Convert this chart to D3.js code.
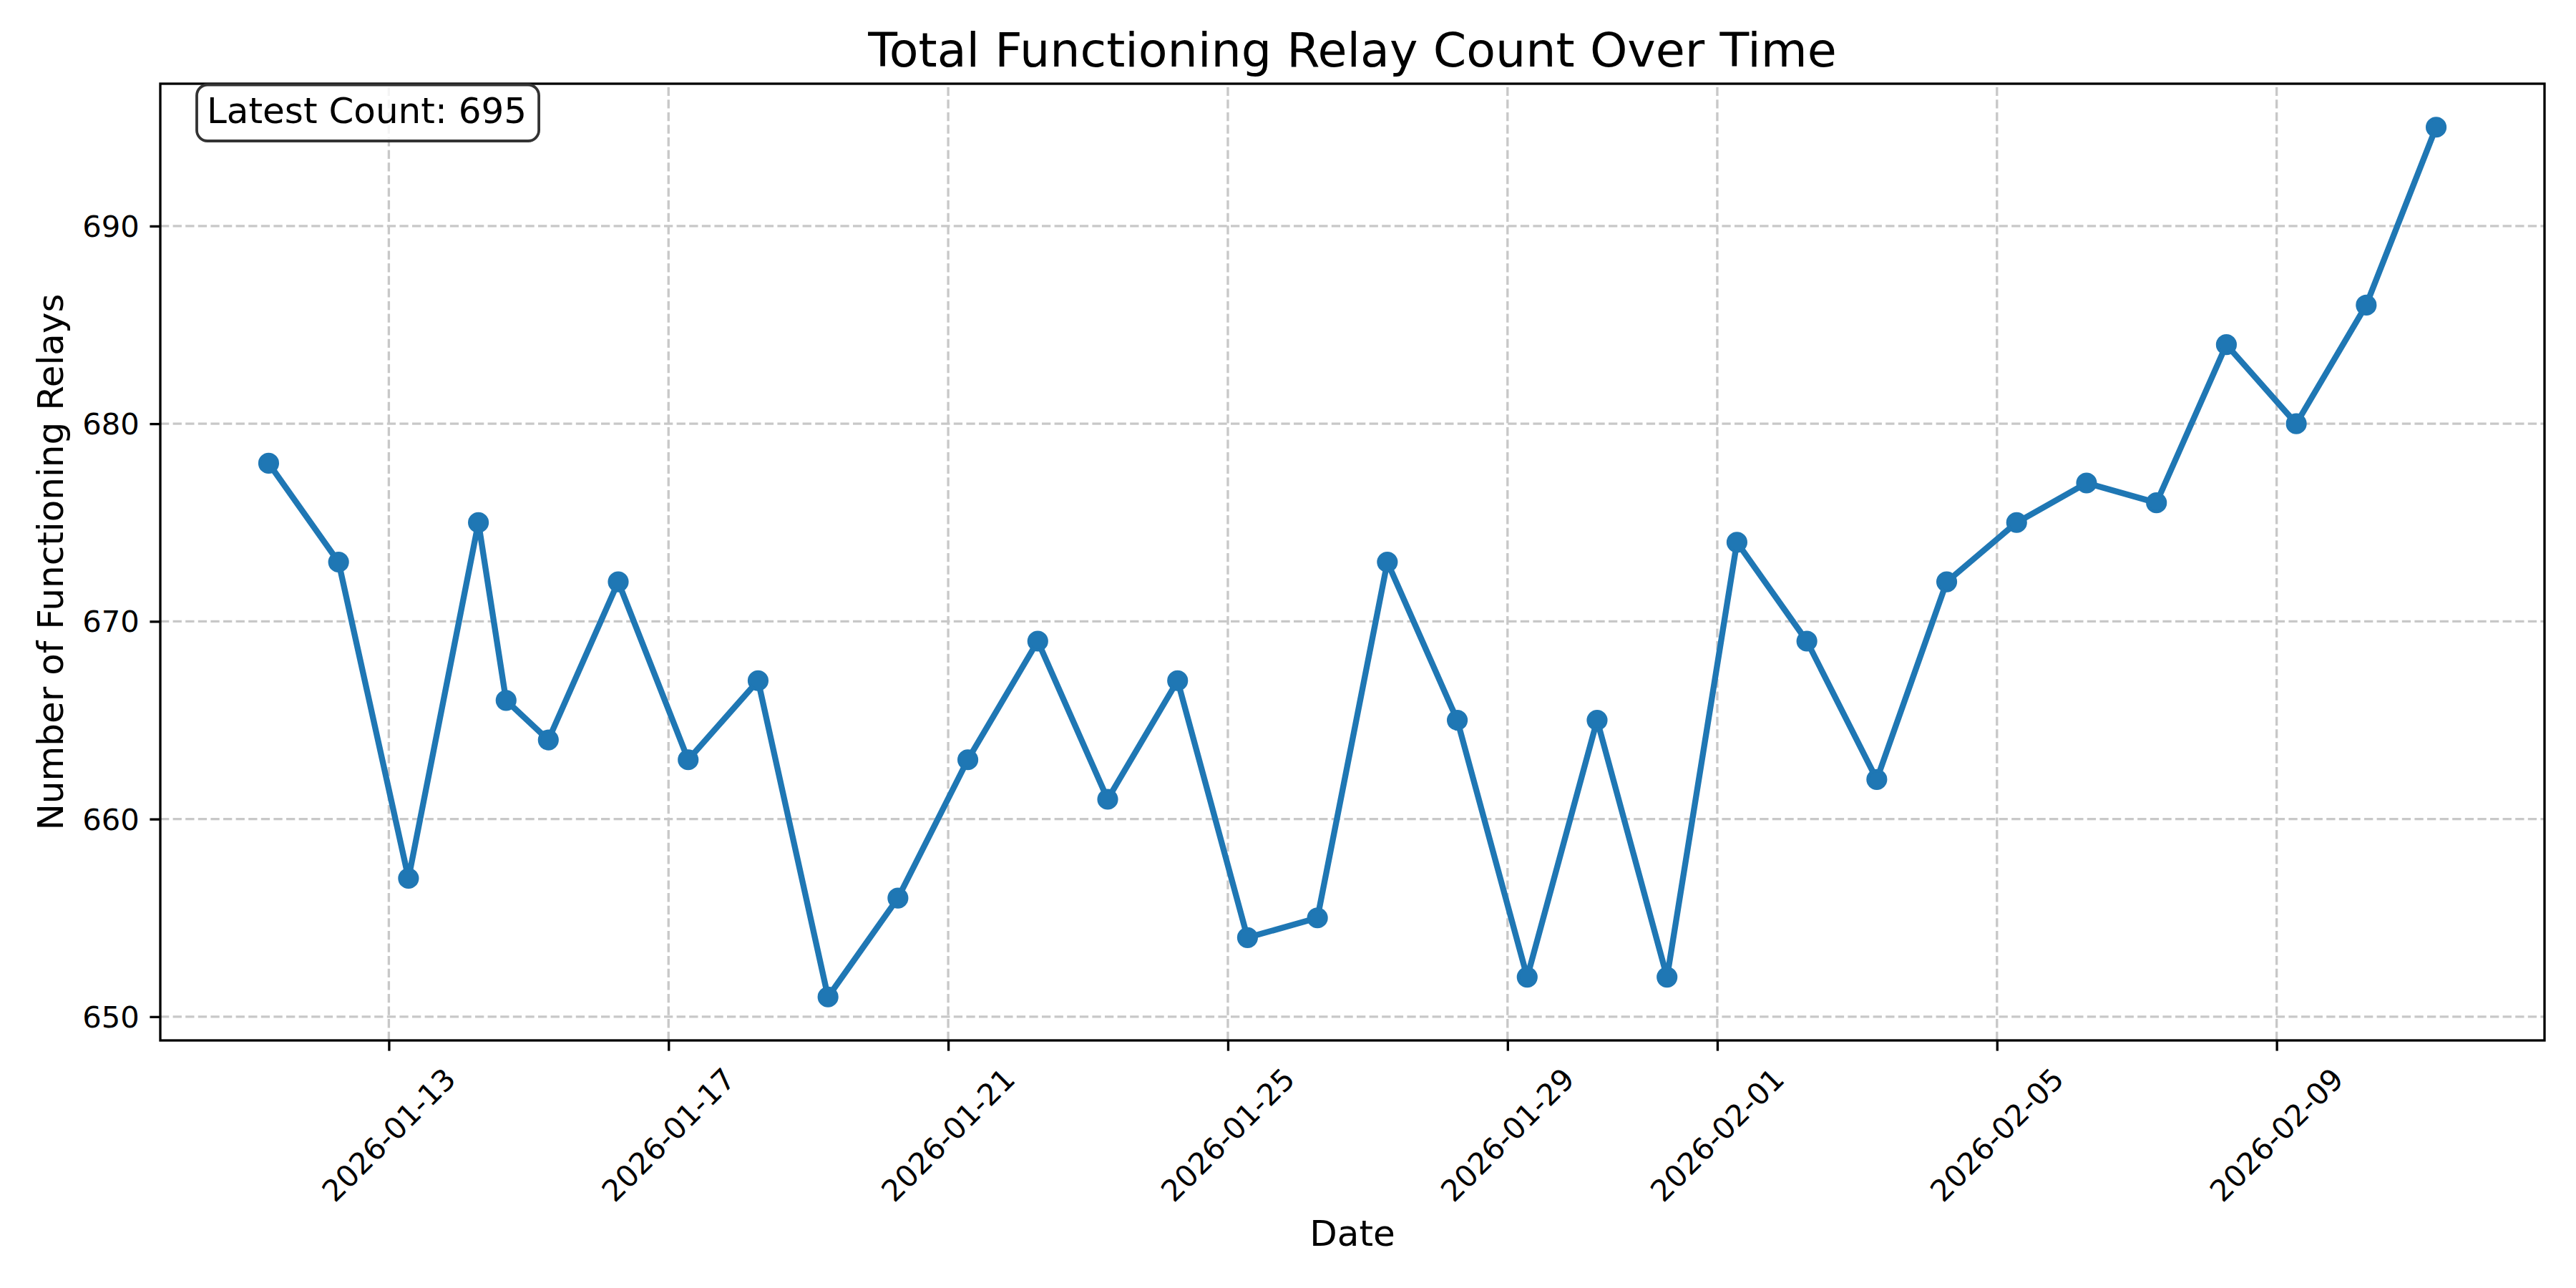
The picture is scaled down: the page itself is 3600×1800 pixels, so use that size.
<!DOCTYPE html>
<html>
<head>
<meta charset="utf-8">
<script src="https://cdn.jsdelivr.net/npm/d3@7"></script>
<style>
  body { margin: 0; background: #fff; }
  text { font-family: "DejaVu Sans", sans-serif; fill: #000; }
</style>
</head>
<body>
<div id="chart"></div>
<script>
// readings, one per day (plus a second one on Jan 14)
const dates = [
	"2026-01-11T06:45", "2026-01-12T06:45", "2026-01-13T06:45", "2026-01-14T06:45", "2026-01-14T16:15",
	"2026-01-15T06:45", "2026-01-16T06:45", "2026-01-17T06:45", "2026-01-18T06:45", "2026-01-19T06:45",
	"2026-01-20T06:45", "2026-01-21T06:45", "2026-01-22T06:45", "2026-01-23T06:45", "2026-01-24T06:45",
	"2026-01-25T06:45", "2026-01-26T06:45", "2026-01-27T06:45", "2026-01-28T06:45", "2026-01-29T06:45",
	"2026-01-30T06:45", "2026-01-31T06:45", "2026-02-01T06:45", "2026-02-02T06:45", "2026-02-03T06:45",
	"2026-02-04T06:45", "2026-02-05T06:45", "2026-02-06T06:45", "2026-02-07T06:45", "2026-02-08T06:45",
	"2026-02-09T06:45", "2026-02-10T06:45", "2026-02-11T06:45"
];
const counts = [
	678, 673, 657, 675, 666,
	664, 672, 663, 667, 651,
	656, 663, 669, 661, 667,
	654, 655, 673, 665, 652,
	665, 652, 674, 669, 662,
	672, 675, 677, 676, 684,
	680, 686, 695
];
const xTickLabels = ["2026-01-13", "2026-01-17", "2026-01-21", "2026-01-25", "2026-01-29", "2026-02-01", "2026-02-05", "2026-02-09"];
const yTickValues = [650, 660, 670, 680, 690];

const title = "Total Functioning Relay Count Over Time";
const xLabel = "Date";
const yLabel = "Number of Functioning Relays";

const w = 3600;
const h = 1800;
const margin = { top: 117, bottom: 346, left: 224, right: 44 };
const blue = "#1f77b4";
const gridColor = "#c8c8c8";

const parse = d3.utcParse("%Y-%m-%dT%H:%M");
const parseDay = d3.utcParse("%Y-%m-%d");
const data = dates.map((d, i) => ({ date: parse(d), count: counts[i] }));

const svg = d3.select("#chart")
	.append("svg")
	.attr("width", w)
	.attr("height", h)
	.attr("viewBox", [0, 0, w, h]);

// matplotlib-like 5% padding on both axes
const [t0, t1] = d3.extent(data, d => d.date);
const tPad = (t1 - t0) * 0.05;
const x = d3.scaleUtc()
	.domain([new Date(+t0 - tPad), new Date(+t1 + tPad)])
	.range([margin.left, w - margin.right]);

const [c0, c1] = d3.extent(counts);
const cPad = (c1 - c0) * 0.05;
const y = d3.scaleLinear()
	.domain([c0 - cPad, c1 + cPad])
	.range([h - margin.bottom, margin.top]);

const xTicks = xTickLabels.map(parseDay);
const x0 = margin.left, x1 = w - margin.right;
const y0 = h - margin.bottom, y1 = margin.top;

// grid
svg.append("g")
	.selectAll("line")
	.data(xTicks)
	.join("line")
		.attr("x1", d => x(d)).attr("x2", d => x(d))
		.attr("y1", y0).attr("y2", y1)
		.attr("stroke", gridColor)
		.attr("stroke-width", 3.33)
		.attr("stroke-dasharray", "12.3,5.3");

svg.append("g")
	.selectAll("line")
	.data(yTickValues)
	.join("line")
		.attr("x1", x0).attr("x2", x1)
		.attr("y1", d => y(d)).attr("y2", d => y(d))
		.attr("stroke", gridColor)
		.attr("stroke-width", 3.33)
		.attr("stroke-dasharray", "12.3,5.3");

// line + markers
const line = d3.line()
	.x(d => x(d.date))
	.y(d => y(d.count));

svg.append("path")
	.datum(data)
	.attr("fill", "none")
	.attr("stroke", blue)
	.attr("stroke-width", 8.33)
	.attr("stroke-linejoin", "round")
	.attr("stroke-linecap", "square")
	.attr("d", line);

svg.append("g")
	.selectAll("circle")
	.data(data)
	.join("circle")
		.attr("cx", d => x(d.date))
		.attr("cy", d => y(d.count))
		.attr("r", 12.5)
		.attr("fill", blue)
		.attr("stroke", blue)
		.attr("stroke-width", 4.17);

// axes
const tickLen = 14.6;

svg.append("g")
	.attr("transform", `translate(0, ${y0})`)
	.call(d3.axisBottom(x).tickValues(xTicks).tickSize(tickLen).tickFormat(""))
	.call(g => g.select(".domain").remove())
	.call(g => g.selectAll(".tick line").attr("stroke", "#000").attr("stroke-width", 3.33));

svg.append("g")
	.attr("transform", `translate(${x0}, 0)`)
	.call(d3.axisLeft(y).tickValues(yTickValues).tickSize(tickLen).tickPadding(tickLen))
	.call(g => g.select(".domain").remove())
	.call(g => g.selectAll(".tick line").attr("stroke", "#000").attr("stroke-width", 3.33))
	.call(g => g.selectAll(".tick text")
		.attr("font-family", "DejaVu Sans")
		.attr("font-size", 41.7)
		.attr("fill", "#000")
		.attr("dy", "0.35em"));

// rotated x tick labels, bbox centred under the tick (like ha="center")
const fs = 41.7;
const lblTop = y0 + tickLen + tickLen;
xTicks.forEach((d, i) => {
	const t = svg.append("text")
		.attr("font-size", fs)
		.attr("text-anchor", "middle")
		.attr("dy", "0.35em")
		.text(xTickLabels[i]);
	const tw = t.node().getComputedTextLength();
	const half = (tw + fs * 1.164) / (2 * Math.SQRT2);
	t.attr("transform", `translate(${x(d)}, ${lblTop + half}) rotate(-45)`);
});

// frame
svg.append("rect")
	.attr("x", x0).attr("y", y1)
	.attr("width", x1 - x0).attr("height", y0 - y1)
	.attr("fill", "none")
	.attr("stroke", "#000")
	.attr("stroke-width", 3.33);

// labels
svg.append("text")
	.attr("x", (x0 + x1) / 2)
	.attr("y", 93)
	.attr("text-anchor", "middle")
	.attr("font-size", 66.7)
	.text(title);

svg.append("text")
	.attr("x", (x0 + x1) / 2)
	.attr("y", 1741)
	.attr("text-anchor", "middle")
	.attr("font-size", 50)
	.text(xLabel);

svg.append("text")
	.attr("transform", `translate(88, ${(y0 + y1) / 2}) rotate(-90)`)
	.attr("text-anchor", "middle")
	.attr("font-size", 50)
	.text(yLabel);

// latest count box
const latest = counts[counts.length - 1];
const note = svg.append("g");
const noteText = note.append("text")
	.attr("x", 289)
	.attr("y", 172)
	.attr("font-size", 50)
	.text(`Latest Count: ${latest}`);
const tb = noteText.node().getBBox();
note.insert("rect", "text")
	.attr("x", 275)
	.attr("y", 118.5)
	.attr("width", tb.x + tb.width + 17 - 275)
	.attr("height", 78.5)
	.attr("rx", 15)
	.attr("fill", "#fff")
	.attr("fill-opacity", 0.8)
	.attr("stroke", "#333")
	.attr("stroke-width", 3.8);
</script>
</body>
</html>
